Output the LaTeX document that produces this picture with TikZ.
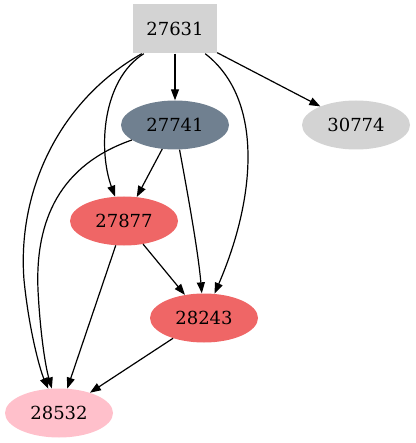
\documentclass[tikz,border=0pt]{standalone}
\usepackage{fontspec}
\setmainfont{DejaVu Serif}
\usetikzlibrary{arrows.meta,shapes.geometric}
\definecolor{lgray}{HTML}{D3D3D3}
\definecolor{slate}{HTML}{708090}
\definecolor{coral}{HTML}{EF6666}
\definecolor{pinkc}{HTML}{FFC0CB}
\tikzset{
  ell/.style={ellipse, minimum width=108pt, minimum height=49pt, inner sep=0pt, draw=none, font=\fontsize{18}{21}\selectfont},
  boxn/.style={rectangle, minimum width=84pt, minimum height=49pt, inner sep=0pt, fill=lgray, font=\fontsize{18}{21}\selectfont},
  edge/.style={-{Triangle[length=11pt,width=8pt]}, line width=1.2pt, black}
}
\begin{document}
\begin{tikzpicture}[x=1pt,y=-1pt]
\useasboundingbox (0,0) rectangle (415,443);
\node[boxn] (a) at (175,29) {27631};
\node[ell, fill=slate] (b) at (175,125) {27741};
\node[ell, fill=lgray] (c) at (356,125) {30774};
\node[ell, fill=coral] (d) at (124,221) {27877};
\node[ell, fill=coral] (e) at (204,318) {28243};
\node[ell, fill=pinkc] (f) at (59,413) {28532};

\draw[edge] (a) -- (b);
\draw[edge] (a.south east) ++(0,-1) coordinate (ase) (ase) -- (c);
\draw[edge] (a.south west) ++(11,0) coordinate (aw1) (aw1) .. controls (102,80) and (98,150) .. (d);
\draw[edge] (a.south west) ++(9,0) coordinate (aw2) (aw2) .. controls (60,100) and (17,190) .. (24,280) .. controls (29,330) and (40,370) .. (f);
\draw[edge] (b) .. controls (60,165) and (35,220) .. (38,290) .. controls (40,330) and (45,365) .. (f);
\draw[edge] (b) -- (d);
\draw[edge] (b) .. controls (187,190) and (198,250) .. (e);
\draw[edge] (a.south east) ++(-12,0) coordinate (ae2) (ae2) .. controls (265,100) and (255,200) .. (e);
\draw[edge] (d) -- (e);
\draw[edge] (d) -- (f);
\draw[edge] (e) -- (f);
\end{tikzpicture}
\end{document}
